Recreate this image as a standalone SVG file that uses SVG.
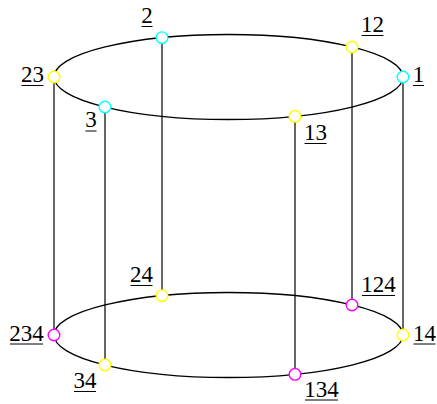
<svg xmlns="http://www.w3.org/2000/svg" width="437" height="404" viewBox="0 0 437 404">
<style>
.e{fill:none;stroke:#000;stroke-width:1.3}
.v{stroke:#000;stroke-width:1.2}
.p{fill:#fff;stroke-width:1.4}
.c{stroke:#00ffff}.y{stroke:#ffff00}.m{stroke:#ff00ff}
.t{font-family:"Liberation Serif",serif;font-size:23px;fill:#000;text-anchor:middle}
.u{stroke:#000;stroke-width:1}
</style>
<rect width="437" height="404" fill="#fff"/>
<g id="connectors">
<ellipse class="e" cx="228.5" cy="77" rx="174.5" ry="42.5"/>
<ellipse class="e" cx="228.5" cy="335" rx="174.5" ry="42.5"/>
<line class="v" x1="403" y1="77" x2="403" y2="335"/>
<line class="v" x1="162" y1="37.7" x2="162" y2="295.7"/>
<line class="v" x1="105" y1="107" x2="105" y2="365"/>
<line class="v" x1="352" y1="47" x2="352" y2="305"/>
<line class="v" x1="295" y1="116.3" x2="295" y2="374.3"/>
<line class="v" x1="54" y1="77" x2="54" y2="335"/>
</g>
<g id="n1"><circle class="p c" cx="403" cy="77" r="5.8"/><text class="t" x="418.5" y="82">1</text><line class="u" x1="413" y1="85.5" x2="424" y2="85.5"/></g>
<g id="n2"><circle class="p c" cx="162" cy="37.7" r="5.8"/><text class="t" x="147" y="23">2</text><line class="u" x1="141.5" y1="26.5" x2="152.5" y2="26.5"/></g>
<g id="n3"><circle class="p c" cx="105" cy="107" r="5.8"/><text class="t" x="91" y="127">3</text><line class="u" x1="85.5" y1="131" x2="96.5" y2="131"/></g>
<g id="n12"><circle class="p y" cx="352" cy="47" r="5.8"/><text class="t" x="372.5" y="32">12</text><line class="u" x1="361.5" y1="35.5" x2="383.5" y2="35.5"/></g>
<g id="n13"><circle class="p y" cx="295" cy="116.3" r="5.8"/><text class="t" x="315.5" y="140">13</text><line class="u" x1="304.5" y1="143.5" x2="326.5" y2="143.5"/></g>
<g id="n23"><circle class="p y" cx="54" cy="77" r="5.8"/><text class="t" x="32.5" y="82">23</text><line class="u" x1="21.5" y1="85.5" x2="43.5" y2="85.5"/></g>
<g id="n14"><circle class="p y" cx="403" cy="335" r="5.8"/><text class="t" x="424.5" y="340.5">14</text><line class="u" x1="413.5" y1="344" x2="435.5" y2="344"/></g>
<g id="n24"><circle class="p y" cx="162" cy="295.7" r="5.8"/><text class="t" x="141.5" y="282">24</text><line class="u" x1="130.5" y1="285.5" x2="152.5" y2="285.5"/></g>
<g id="n34"><circle class="p y" cx="105" cy="365" r="5.8"/><text class="t" x="85" y="388">34</text><line class="u" x1="74" y1="391.5" x2="96" y2="391.5"/></g>
<g id="n124"><circle class="p m" cx="352" cy="305" r="5.8"/><text class="t" x="378.5" y="292">124</text><line class="u" x1="362" y1="295.5" x2="395" y2="295.5"/></g>
<g id="n134"><circle class="p m" cx="295" cy="374.3" r="5.8"/><text class="t" x="321.5" y="396.5">134</text><line class="u" x1="305" y1="400" x2="338" y2="400"/></g>
<g id="n234"><circle class="p m" cx="54" cy="335" r="5.8"/><text class="t" x="26.5" y="340.5">234</text><line class="u" x1="10" y1="344" x2="43" y2="344"/></g>
</svg>
